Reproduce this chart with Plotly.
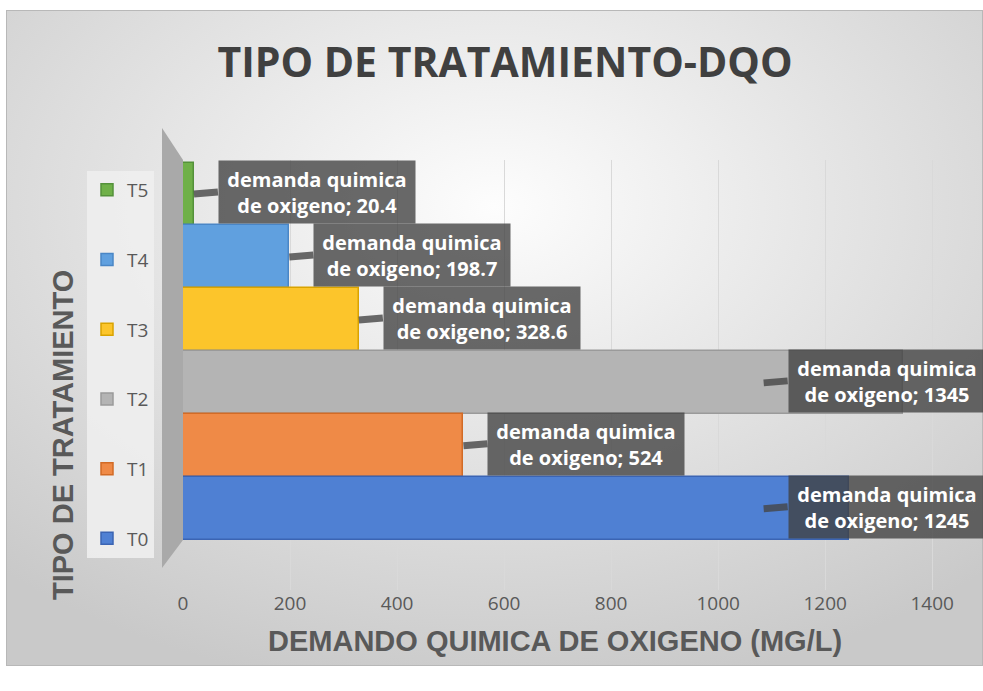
import base64
import plotly.graph_objects as go

# data
tratamientos = ["T0", "T1", "T2", "T3", "T4", "T5"]
dqo = [1245, 524, 1345, 328.6, 198.7, 20.4]
x_ticks = [0, 200, 400, 600, 800, 1000, 1200, 1400]
serie = "demanda quimica de oxigeno"

colores = ["#4f80d3", "#ef8a47", "#b4b4b4", "#fcc52b", "#60a0df", "#6fb048"]
bordes = ["#3b64b3", "#d26b26", "#9a9a9a", "#d9a300", "#4a86c6", "#54913a"]

W, H = 983, 691
L, R, T, B = 183, 24, 160, 101
pw, ph = W - L - R, H - T - B


def to_paper(x, y):
    # figure pixel -> paper coordinates
    return (x - L) / pw, (H - B - y) / ph


# radial grey background like the Excel chart area
svg = (
    '<svg xmlns="http://www.w3.org/2000/svg" width="977" height="656" '
    'preserveAspectRatio="none" viewBox="0 0 977 656">'
    '<defs><radialGradient id="g" cx="50%" cy="30%" r="75%">'
    '<stop offset="0" stop-color="#fdfdfd"/><stop offset="1" stop-color="#c9c9c9"/>'
    '</radialGradient></defs>'
    '<rect x="0" y="0" width="977" height="656" fill="url(#g)" stroke="#b8b8b8" stroke-width="2"/>'
    '</svg>'
)
bg_src = "data:image/svg+xml;base64," + base64.b64encode(svg.encode()).decode()

fig = go.Figure()

# added T5 first so the legend lists T5 at the top
for name, v, c, e in reversed(list(zip(tratamientos, dqo, colores, bordes))):
    fig.add_bar(
        y=[name], x=[v], orientation="h", name=name, legendgroup=name,
        marker=dict(color=c, line=dict(color=e, width=1.5)),
        hovertemplate=f"{serie}; %{{x}}<extra>{name}</extra>",
    )

# data labels in dark callout boxes (long bars get the box pulled inside)
for name, v in zip(tratamientos, dqo):
    fig.add_annotation(
        x=min(v, 1085), y=name, xref="x", yref="y",
        text=f"demanda quimica<br>de oxigeno; {v:g}",
        showarrow=True, arrowhead=0, arrowwidth=7,
        arrowcolor="rgba(70,70,70,0.8)",
        ax=24, ay=-2, xanchor="left",
        width=190, height=56, align="center",
        bgcolor="rgba(64,64,64,0.78)", borderpad=3,
        font=dict(family="Open Sans", size=20, color="white", weight="bold"),
    )

# axis titles
x0, y0 = to_paper(63, 435)
fig.add_annotation(
    x=x0, y=y0, xref="paper", yref="paper", showarrow=False,
    xanchor="center", yanchor="middle",
    text="TIPO DE TRATAMIENTO", textangle=-90,
    font=dict(family="Liberation Sans", size=29, color="#595959", weight="bold"),
)
x0, y0 = to_paper(555, 641)
fig.add_annotation(
    x=x0, y=y0, xref="paper", yref="paper", showarrow=False,
    xanchor="center", yanchor="middle",
    text="DEMANDO QUIMICA DE OXIGENO (MG/L)",
    font=dict(family="Liberation Sans", size=29, color="#595959", weight="bold"),
)

# left side wall of the 3D plot
p = [to_paper(162, 128), to_paper(183, 160), to_paper(183, 540), to_paper(162, 568)]
path = "M {} {} L {} {} L {} {} L {} {} Z".format(*[c for pt in p for c in pt])
fig.add_shape(type="path", path=path, xref="paper", yref="paper",
              fillcolor="#a9a9a9", line=dict(width=0), layer="below")

bx0, by0 = to_paper(6, 10)
bx1, by1 = to_paper(983, 666)
fig.add_layout_image(
    source=bg_src, xref="paper", yref="paper", x=bx0, y=by0,
    sizex=bx1 - bx0, sizey=by0 - by1, sizing="stretch",
    xanchor="left", yanchor="top", layer="below",
)

lx, ly = to_paper(87, 171)
fig.update_layout(
    width=W, height=H,
    margin=dict(l=L, r=R, t=T, b=B),
    paper_bgcolor="white", plot_bgcolor="rgba(0,0,0,0)",
    barmode="overlay", bargap=0,
    title=dict(
        text="TIPO DE TRATAMIENTO-DQO", x=505 / W, y=1 - 63 / H,
        xanchor="center", yanchor="middle",
        font=dict(family="Open Sans", size=41, color="#404040", weight="bold"),
    ),
    legend=dict(
        x=lx, y=ly, xanchor="left", yanchor="top",
        traceorder="grouped", tracegroupgap=42,
        bgcolor="rgba(238,238,238,0.9)",
        font=dict(family="Open Sans", size=19, color="#595959"),
    ),
    xaxis=dict(
        range=[0, 1450], tickvals=x_ticks, showgrid=True,
        gridcolor="#d9d9d9", zeroline=False, showline=False,
        tickfont=dict(family="Open Sans", size=19, color="#595959"),
    ),
    yaxis=dict(
        type="category", categoryorder="array", categoryarray=tratamientos,
        range=[-1.29, 5.54], showticklabels=False, showgrid=False,
        zeroline=False, showline=False,
    ),
)

# drop the default page margin so the figure fills the window
fig.write_html(
    "out.html",
    config={"displayModeBar": False},
    post_script="document.body.style.margin='0';document.body.style.overflow='hidden';",
)
